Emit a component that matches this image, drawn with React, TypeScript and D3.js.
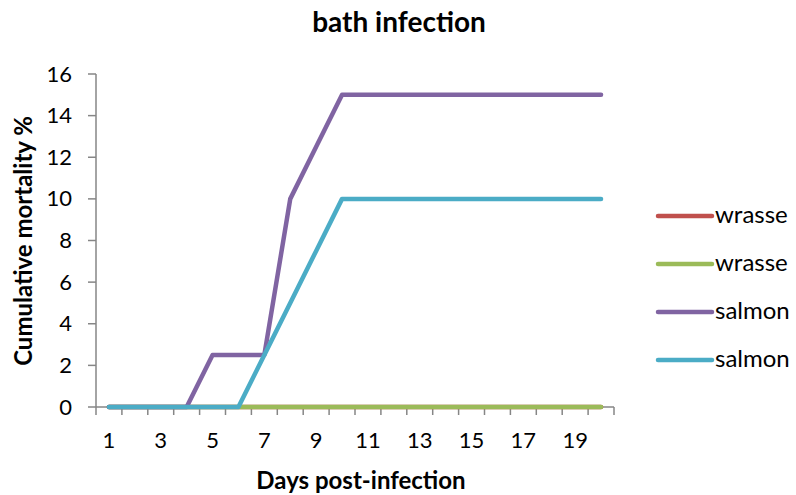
import React from "react";
import * as d3 from "d3";

const days = d3.range(1, 21);
const wrasseRed = [0,0,0,0,0,0,0,0,0,0,0,0,0,0,0,0,0,0,0,0];
const wrasseGreen = [0,0,0,0,0,0,0,0,0,0,0,0,0,0,0,0,0,0,0,0];
const salmonPurple = [0,0,0,0,2.5,2.5,2.5,10,12.5,15,15,15,15,15,15,15,15,15,15,15];
const salmonCyan = [0,0,0,0,0,0,2.5,5,7.5,10,10,10,10,10,10,10,10,10,10,10];
const yTicks = [0,2,4,6,8,10,12,14,16];
const xTickLabels = [1,3,5,7,9,11,13,15,17,19];

const series = [
  { name: "wrasse", values: wrasseRed, color: "#C0504D" },
  { name: "wrasse", values: wrasseGreen, color: "#9BBB59" },
  { name: "salmon", values: salmonPurple, color: "#8064A2" },
  { name: "salmon", values: salmonCyan, color: "#4BACC6" },
];

const W = 796, H = 495;
const left = 96, right = 614, top = 74, bottom = 407;
const font = "Lato, 'Open Sans', sans-serif";

export default function App() {
  const x = d3.scaleBand<number>().domain(days).range([left, right]);
  const y = d3.scaleLinear().domain([0, 16]).range([bottom, top]);
  const cx = (d: number) => (x(d) as number) + x.bandwidth() / 2;
  const line = d3.line<number>().x((_, i) => cx(days[i])).y((v) => y(v));
  const axisColor = "#868686";
  const boundaries = d3.range(0, days.length + 1).map((i) => left + i * x.bandwidth());
  return (
    <svg width={W} height={H} style={{ position: "absolute", left: 0, top: 0, background: "#fff" }}>
      <rect width={W} height={H} fill="#fff" />
      <text x={399} y={32} textAnchor="middle" fontFamily={font} fontWeight="bold" fontSize={28}>bath infection</text>
      {/* y axis */}
      <line x1={left} x2={left} y1={top} y2={bottom} stroke={axisColor} strokeWidth={1.5} />
      {yTicks.map((t) => (
        <g key={t}>
          <line x1={left - 8} x2={left} y1={y(t)} y2={y(t)} stroke={axisColor} strokeWidth={1.5} />
          <text x={72} y={y(t) + 7.5} textAnchor="end" fontFamily={font} fontSize={22}>{t}</text>
        </g>
      ))}
      {/* x axis */}
      <line x1={left} x2={right} y1={bottom} y2={bottom} stroke={axisColor} strokeWidth={1.5} />
      {boundaries.map((b, i) => (
        <line key={i} x1={b} x2={b} y1={bottom} y2={bottom + 8} stroke={axisColor} strokeWidth={1.5} />
      ))}
      {xTickLabels.map((d) => (
        <text key={d} x={cx(d)} y={448} textAnchor="middle" fontFamily={font} fontSize={22}>{d}</text>
      ))}
      <text x={361} y={489} textAnchor="middle" fontFamily={font} fontWeight="bold" fontSize={24}>Days post-infection</text>
      <text transform={`translate(32, 241) rotate(-90)`} textAnchor="middle" fontFamily={font} fontWeight="bold" fontSize={24}>Cumulative mortality %</text>
      {series.map((s, i) => (
        <path key={i} d={line(s.values) || ""} fill="none" stroke={s.color} strokeWidth={4.5} strokeLinejoin="round" strokeLinecap="round" />
      ))}
      {series.map((s, i) => (
        <g key={"l" + i}>
          <line x1={658} x2={712} y1={216 + i * 48} y2={216 + i * 48} stroke={s.color} strokeWidth={4.5} strokeLinecap="round" />
          <text x={715} y={216 + i * 48 + 7} fontFamily={font} fontSize={24}>{s.name}</text>
        </g>
      ))}
    </svg>
  );
}
